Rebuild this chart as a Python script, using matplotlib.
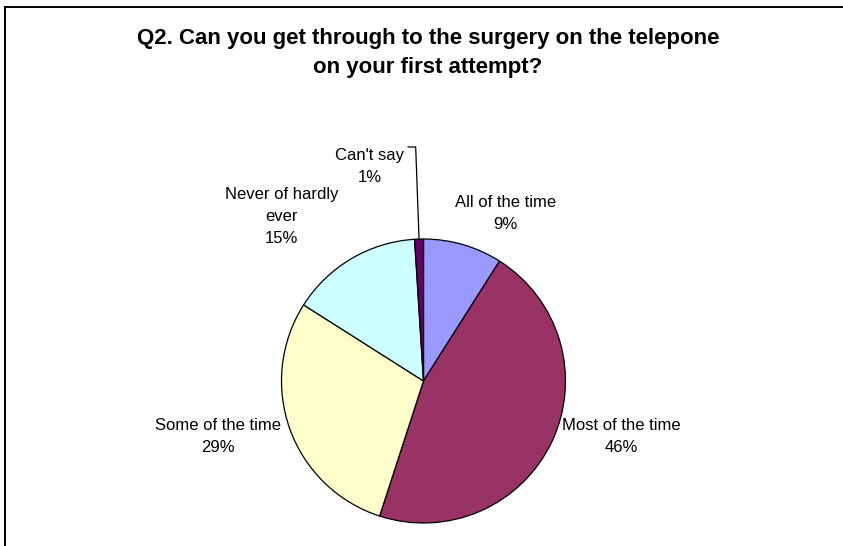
"""Pie chart: getting through to the surgery by telephone."""

import numpy as np
import matplotlib
matplotlib.use("Agg")
import matplotlib.pyplot as plt
from matplotlib.patches import Rectangle

plt.rcParams["font.family"] = ["Liberation Sans", "DejaVu Sans"]

# Data
categories = ["All of the time", "Most of the time", "Some of the time",
              "Never of hardly\never", "Can't say"]
shares = [9, 46, 29, 15, 1]
colors = ["#9999FF", "#993366", "#FFFFCC", "#CCFFFF", "#660066"]
title = "Q2. Can you get through to the surgery on the telepone\non your first attempt?"

# Label centres in pie units (radius = 1)
label_pos = [(0.58, 1.18), (1.39, -0.39), (-1.45, -0.39), (-1.00, 1.16), (-0.38, 1.51)]

W, H = 843, 546
fig = plt.figure(figsize=(W / 100, H / 100), dpi=100)

# Chart frame (runs off the right and bottom edges)
fig.add_artist(Rectangle((5 / W, -0.05), 1.2, 1 - 7 / H + 0.05,
                         transform=fig.transFigure, fill=False,
                         edgecolor="black", linewidth=1.4))

fig.text(428 / W, 1 - 53 / H, title, ha="center", va="center",
         fontsize=16, fontweight="bold", linespacing=1.45)

# Pie axes: centre (423.5, 381) px, radius 142 px
cx, cy, r = 423.5, 381, 142
ax = fig.add_axes([(cx - r) / W, (H - cy - r) / H, 2 * r / W, 2 * r / H])
ax.pie(shares, colors=colors, startangle=90, counterclock=False,
       wedgeprops=dict(edgecolor="black", linewidth=0.9))
ax.set_xlim(-1, 1)
ax.set_ylim(-1, 1)
ax.set_aspect("equal")
ax.axis("off")

for name, val, (lx, ly) in zip(categories, shares, label_pos):
    ax.text(lx, ly, "{}\n{}%".format(name, val), ha="center", va="center",
            fontsize=12, linespacing=1.57, clip_on=False)

# Leader line for the small "Can't say" slice
mid = np.deg2rad(90 - 360 * (sum(shares) - shares[-1] / 2) / sum(shares))
ex, ey = np.cos(mid), np.sin(mid)
ax.plot([-0.108, -0.055, ex], [1.648, 1.648, ey], color="black",
        linewidth=0.9, clip_on=False)

fig.savefig("out.png", dpi=100)
